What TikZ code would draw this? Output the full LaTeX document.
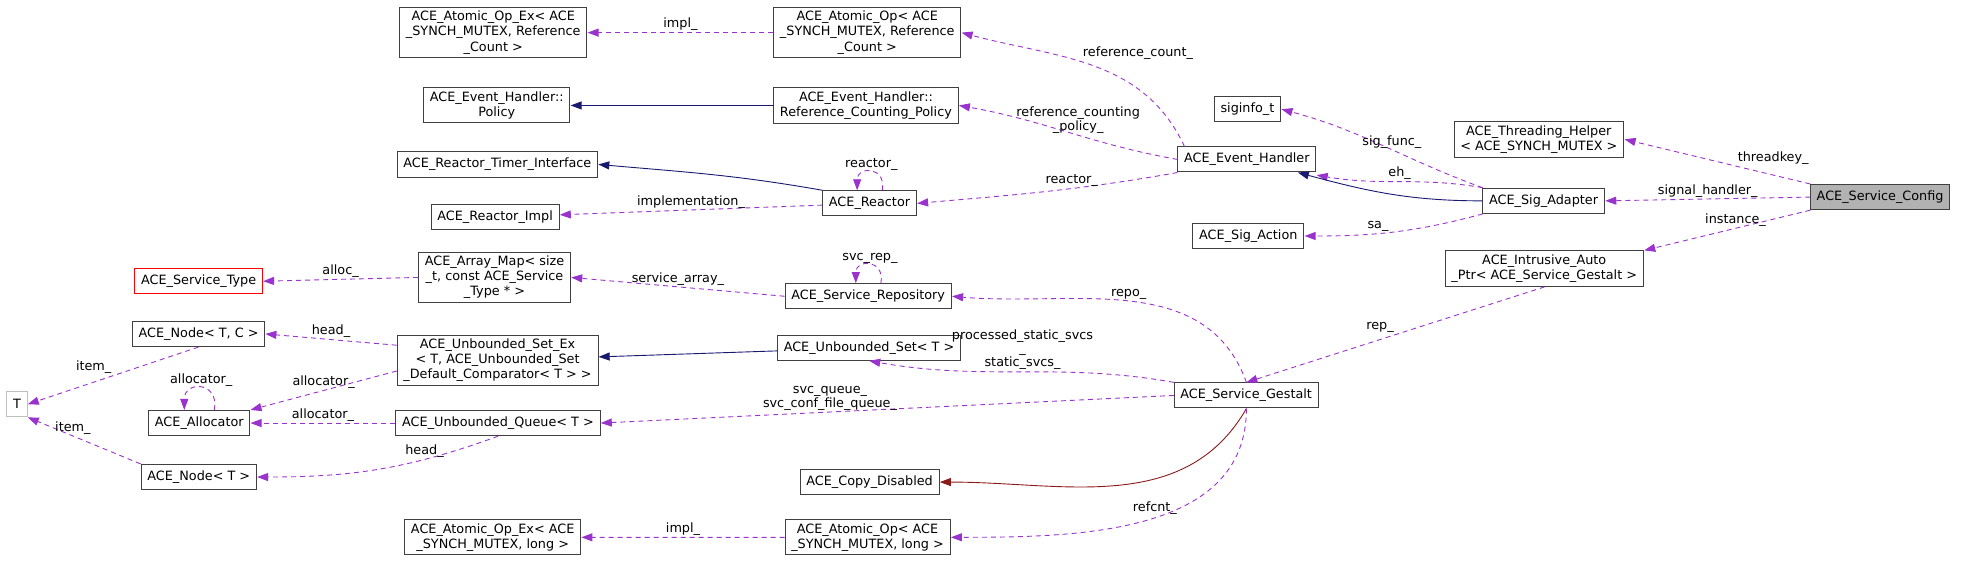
\documentclass[tikz,border=0pt]{standalone}
\usepackage{fontspec}
\setmainfont{DejaVu Sans}
\usetikzlibrary{arrows.meta}
\definecolor{dep}{HTML}{9A32CD}
\definecolor{inh}{HTML}{191970}
\definecolor{prv}{HTML}{8B1A1A}
\begin{document}
\begin{tikzpicture}[x=1pt,y=-1pt,scale=1.255,
  every node/.style={transform shape,font=\fontsize{10.2}{12}\selectfont},
  box/.style={draw=black!75,line width=0.9pt,fill=white,anchor=west,align=center,inner xsep=5pt,inner ysep=3pt,minimum height=20pt},
  grey/.style={box,draw=black!25},
  red/.style={box,draw=red},
  cur/.style={box,fill=black!30},
  dep/.style={draw=dep,dashed,dash pattern=on 5pt off 4pt,line width=0.9pt,-{Triangle[length=11pt,width=8pt]}},
  inh/.style={draw=inh,line width=0.9pt,-{Triangle[length=11pt,width=8pt]}},
  prv/.style={draw=prv,line width=0.9pt,-{Triangle[length=11pt,width=8pt]}},
  lab/.style={inner sep=1pt,font=\fontsize{10.2}{11}\selectfont}]
\useasboundingbox (0,0) rectangle (1568,450);
\node[box] (aoexrc) at (318,26) {ACE\_Atomic\_Op\_Ex< ACE\\\_SYNCH\_MUTEX, Reference\\\_Count >};
\node[box] (aorc) at (616,26) {ACE\_Atomic\_Op< ACE\\\_SYNCH\_MUTEX, Reference\\\_Count >};
\node[box] (pol) at (337,84) {ACE\_Event\_Handler::\\Policy};
\node[box] (rcp) at (616,84) {ACE\_Event\_Handler::\\Reference\_Counting\_Policy};
\node[box] (rti) at (316,131) {ACE\_Reactor\_Timer\_Interface};
\node[box] (rea) at (655,162) {ACE\_Reactor};
\node[box] (rim) at (343,173) {ACE\_Reactor\_Impl};
\node[box] (eh) at (938,127) {ACE\_Event\_Handler};
\node[box] (sig) at (967,87) {siginfo\_t};
\node[box] (th) at (1158,111) {ACE\_Threading\_Helper\\< ACE\_SYNCH\_MUTEX >};
\node[cur] (sc) at (1442,157) {ACE\_Service\_Config};
\node[box] (sa) at (1181,160) {ACE\_Sig\_Adapter};
\node[box] (sac) at (950,188) {ACE\_Sig\_Action};
\node[box] (iap) at (1151,214) {ACE\_Intrusive\_Auto\\\_Ptr< ACE\_Service\_Gestalt >};
\node[red] (st) at (107,224) {ACE\_Service\_Type};
\node[box] (am) at (333,221) {ACE\_Array\_Map< size\\\_t, const ACE\_Service\\\_Type * >};
\node[box] (sr) at (625,236) {ACE\_Service\_Repository};
\node[box] (ntc) at (105,266) {ACE\_Node< T, C >};
\node[box] (usx) at (316,287) {ACE\_Unbounded\_Set\_Ex\\< T, ACE\_Unbounded\_Set\\\_Default\_Comparator< T > >};
\node[box] (us) at (619,277) {ACE\_Unbounded\_Set< T >};
\node[grey] (t) at (5,322) {T};
\node[box] (al) at (118,337) {ACE\_Allocator};
\node[box] (uq) at (315,337) {ACE\_Unbounded\_Queue< T >};
\node[box] (sg) at (935,315) {ACE\_Service\_Gestalt};
\node[box] (nt) at (112,380) {ACE\_Node< T >};
\node[box] (cd) at (637,384) {ACE\_Copy\_Disabled};
\node[box] (aoexl) at (322,428) {ACE\_Atomic\_Op\_Ex< ACE\\\_SYNCH\_MUTEX, long >};
\node[box] (aol) at (625,428) {ACE\_Atomic\_Op< ACE\\\_SYNCH\_MUTEX, long >};

\draw[dep] (aorc) -- node[lab,above]{impl\_} (aoexrc);
\draw[dep] ([xshift=-50]eh.north) to[out=115,in=-15] node[lab,pos=0.55,above right]{reference\_count\_} (aorc.east);
\draw[inh] (rcp) -- (pol);
\draw[dep] (eh.west) to[out=170,in=-10] node[lab,pos=0.45,above,align=center]{reference\_counting\\\_policy\_} (rcp.east);
\draw[inh] (rea.north west) to[out=170,in=-5] (rti.east);
\draw[dep] ([xshift=10]rea.north) to[out=80,in=90,looseness=2.5] node[lab,above]{reactor\_} ([xshift=-10]rea.north);
\draw[dep] (rea) -- node[lab,above]{implementation\_} (rim);
\draw[dep] (eh.south west) to[out=190,in=5] node[lab,pos=0.4,above]{reactor\_} (rea.east);
\draw[dep] (sa.north west) to[out=160,in=-15] node[lab,pos=0.45,above]{sig\_func\_} (sig.east);
\draw[dep] (sa.north west) to[out=170,in=-10] node[lab,pos=0.5,above]{eh\_} ([yshift=-2]eh.south east);
\draw[inh] (sa.west) to[out=180,in=-15] ([xshift=-15]eh.south east);
\draw[dep] (sa.south west) to[out=195,in=0] node[lab,pos=0.6,above]{sa\_} (sac.east);
\draw[dep] (sc.north west) -- node[lab,above right,pos=0.4]{threadkey\_} (th.east);
\draw[dep] (sc.west) -- node[lab,above]{signal\_handler\_} (sa.east);
\draw[dep] (sc.south west) -- node[lab,above,pos=0.45]{instance\_} (iap.north east);
\draw[dep] (iap.south) -- node[lab,above left]{rep\_} (sg.north);
\draw[dep] (am.west) -- node[lab,above]{alloc\_} (st.east);
\draw[dep] (sr.west) -- node[lab,above]{service\_array\_} (am.east);
\draw[dep] ([xshift=10]sr.north) to[out=80,in=90,looseness=2.5] node[lab,above]{svc\_rep\_} ([xshift=-10]sr.north);
\draw[dep] (sg.north) to[out=110,in=-5] node[lab,pos=0.5,above]{repo\_} (sr.east);
\draw[dep] (usx.west) ++(0,-12) -- node[lab,above]{head\_} (ntc.east);
\draw[dep] (ntc.south) -- node[lab,above left]{item\_} (t.east);
\draw[dep] ([xshift=12]al.north) to[out=80,in=90,looseness=2.5] node[lab,above]{allocator\_} ([xshift=-12]al.north);
\draw[dep] ([yshift=12]usx.south west) -- node[lab,above]{allocator\_} (al.north east);
\draw[inh] (us) -- (usx);
\draw[dep] (sg.north west) to[out=170,in=-10] node[lab,pos=0.55,above,align=center,xshift=12pt]{processed\_static\_svcs\\\_\\static\_svcs\_} (us.south);
\draw[dep] (sg.west) -- node[lab,above,align=center,pos=0.6]{svc\_queue\_\\svc\_conf\_file\_queue\_} (uq.east);
\draw[dep] (uq.west) -- node[lab,above]{allocator\_} (al.east);
\draw[dep] (uq.south) to[out=200,in=0] node[lab,above,pos=0.3]{head\_} (nt.east);
\draw[dep] (nt.north west) -- node[lab,above,pos=0.6]{item\_} (t.south east);
\draw[prv] (sg.south) to[out=240,in=0] (cd.east);
\draw[dep] (sg.south) to[out=270,in=0] node[lab,pos=0.4,left]{refcnt\_} (aol.east);
\draw[dep] (aol) -- node[lab,above]{impl\_} (aoexl);
\end{tikzpicture}
\end{document}
